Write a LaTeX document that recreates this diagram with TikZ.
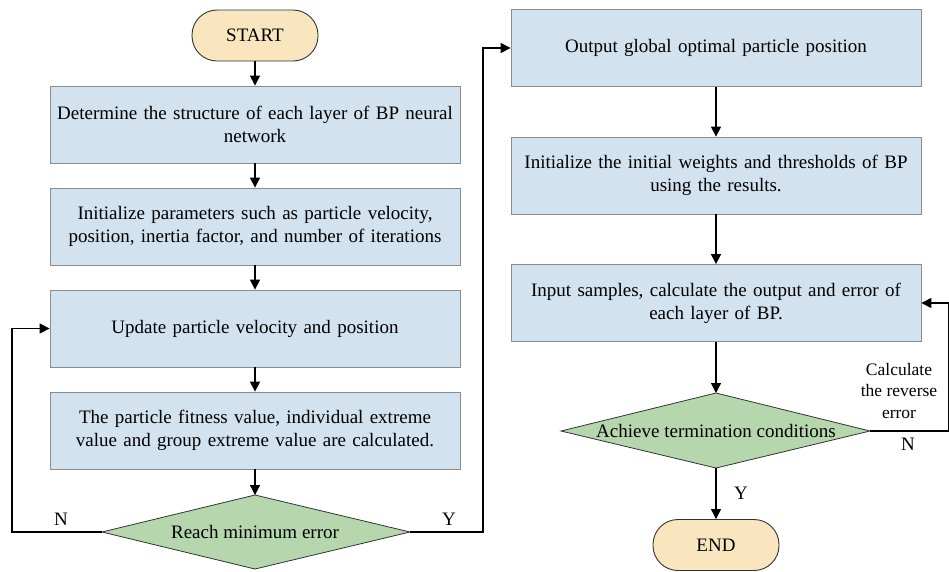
\documentclass[tikz,border=0pt]{standalone}
\usepackage{fontspec}
\setmainfont{Liberation Serif}
\usetikzlibrary{shapes.geometric,arrows.meta}
\definecolor{boxfill}{HTML}{D2E2EE}
\definecolor{boxline}{HTML}{8C8C8C}
\definecolor{termfill}{HTML}{F9E6BE}
\definecolor{decfill}{HTML}{B6D6AD}
\begin{document}
\begin{tikzpicture}[x=1pt,y=-1pt,
  font=\fontsize{19}{23}\selectfont,
  procbox/.style={draw=boxline,fill=boxfill,line width=0.8pt,minimum width=410pt,minimum height=77pt,text width=405pt,align=center,inner sep=0pt},
  termbox/.style={draw=black!80,fill=termfill,line width=0.9pt,rounded corners=25pt,minimum width=126pt,minimum height=51pt,inner sep=0pt},
  decbox/.style={draw=black!80,fill=decfill,line width=0.8pt},
  arr/.style={-{Triangle[length=10pt,width=10pt]},line width=1.2pt},
  lbl/.style={font=\fontsize{19}{22}\selectfont}]
\useasboundingbox (0,0) rectangle (949,571);
% left column
\node[termbox] (start) at (255,35.5) {START};
\node[procbox] (b1) at (255,124.5) {Determine the structure of each layer of BP neural\\network};
\node[procbox] (b2) at (255,226.5) {Initialize parameters such as particle velocity,\\position, inertia factor, and number of iterations};
\node[procbox] (b3) at (255,328.5) {Update particle velocity and position};
\node[procbox] (b4) at (255,430.5) {The particle fitness value, individual extreme\\value and group extreme value are calculated.};
\coordinate (d1w) at (102,532);
\coordinate (d1e) at (410,532);
\coordinate (d1n) at (255,495);
\coordinate (d1s) at (255,569);
\path[decbox,draw] (d1n) -- (d1e) -- (d1s) -- (d1w) -- cycle;
\node (d1) at (255,532) {Reach minimum error};
% right column
\node[procbox] (r1) at (716,48) {Output global optimal particle position};
\node[procbox] (r2) at (716,175.5) {Initialize the initial weights and thresholds of BP\\using the results.};
\node[procbox] (r3) at (716,303) {Input samples, calculate the output and error of\\each layer of BP.};
\coordinate (d2w) at (561,431);
\coordinate (d2e) at (870,431);
\coordinate (d2n) at (716,393);
\coordinate (d2s) at (716,468);
\path[decbox,draw] (d2n) -- (d2e) -- (d2s) -- (d2w) -- cycle;
\node (d2) at (716,431) {Achieve termination conditions};
\node[termbox] (end) at (716,545) {END};
% connectors
\draw[arr] (start) -- (b1);
\draw[arr] (b1) -- (b2);
\draw[arr] (b2) -- (b3);
\draw[arr] (b3) -- (b4);
\draw[arr] (b4) -- (d1n);
\coordinate (nl) at (12,532);
\draw[arr] (d1w) -- (nl) |- (b3.west);
\coordinate (yr) at (483,532);
\draw[arr] (d1e) -- (yr) |- (r1.west);
\draw[arr] (r1) -- (r2);
\draw[arr] (r2) -- (r3);
\draw[arr] (r3) -- (d2n);
\draw[arr] (d2s) -- (end);
\coordinate (nr) at (948.5,431);
\draw[arr] (d2e) -- (nr) |- (r3.east);
% labels
\node[lbl] at (61,519) {N};
\node[lbl] at (449,519) {Y};
\node[lbl] at (741,493) {Y};
\node[lbl] at (908,444) {N};
\node[lbl,align=center,font=\fontsize{17.5}{21.5}\selectfont] at (899,391) {Calculate\\the reverse\\error};
\end{tikzpicture}
\end{document}
